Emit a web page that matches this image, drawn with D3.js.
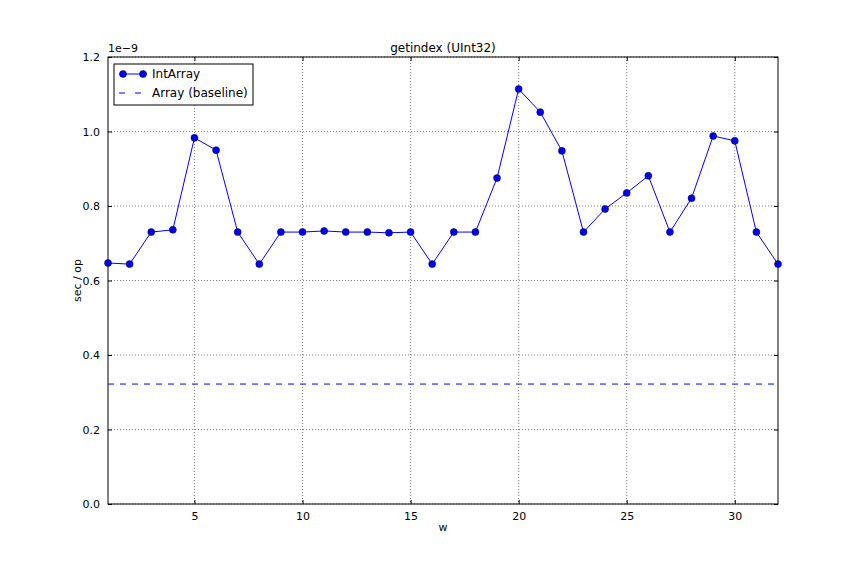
<!DOCTYPE html>
<html><head><meta charset="utf-8">
<script src="https://cdn.jsdelivr.net/npm/d3@7"></script>
<style>body{margin:0;background:#fff}text{font-family:"DejaVu Sans",sans-serif}</style>
</head><body><svg id="c" width="864" height="576"></svg>
<script>
const ws = d3.range(1,33);
const intArray = [0.647,0.644,0.730,0.736,0.983,0.950,0.730,0.644,0.730,0.730,0.733,0.730,0.730,0.728,0.730,0.644,0.730,0.730,0.875,1.114,1.052,0.948,0.730,0.792,0.835,0.881,0.730,0.821,0.988,0.975,0.730,0.644];
const baseline = 0.322;
const xTicks = [5,10,15,20,25,30];
const yTicks = [0,0.2,0.4,0.6,0.8,1.0,1.2];
const svg = d3.select("#c");
const L=108,R=778,T=57,B=504;
const x = d3.scaleLinear().domain([1,32]).range([L,R]);
const y = d3.scaleLinear().domain([0,1.2]).range([B,T]);
const g = svg.append("g");
// grid
xTicks.forEach(t=>g.append("line").attr("x1",x(t)).attr("x2",x(t)).attr("y1",T).attr("y2",B).attr("stroke","#000").attr("stroke-width",0.5).attr("stroke-dasharray","1,2"));
yTicks.forEach(t=>g.append("line").attr("y1",y(t)).attr("y2",y(t)).attr("x1",L).attr("x2",R).attr("stroke","#000").attr("stroke-width",0.5).attr("stroke-dasharray","1,2"));
// axes
const xa = g.append("g").attr("transform",`translate(0,${B})`).call(d3.axisBottom(x).tickValues(xTicks).tickSizeInner(-4).tickSizeOuter(0).tickPadding(8));
const xa2 = g.append("g").attr("transform",`translate(0,${T})`).call(d3.axisTop(x).tickValues(xTicks).tickSizeInner(-4).tickSizeOuter(0).tickFormat(""));
const ya = g.append("g").attr("transform",`translate(${L},0)`).call(d3.axisLeft(y).tickValues(yTicks).tickFormat(d3.format(".1f")).tickSizeInner(-4).tickSizeOuter(0).tickPadding(8));
const ya2 = g.append("g").attr("transform",`translate(${R},0)`).call(d3.axisRight(y).tickValues(yTicks).tickSizeInner(-4).tickSizeOuter(0).tickFormat(""));
[xa,xa2,ya,ya2].forEach(a=>{a.select(".domain").remove();a.selectAll("text").attr("font-size",11).attr("fill","#000");});
g.append("rect").attr("x",L).attr("y",T).attr("width",R-L).attr("height",B-T).attr("fill","none").attr("stroke","#000");
// data
g.append("line").attr("x1",L).attr("x2",R).attr("y1",y(baseline)).attr("y2",y(baseline)).attr("stroke","#0000ff").attr("stroke-dasharray","6,6");
const line = d3.line().x((d,i)=>x(ws[i])).y(d=>y(d));
g.append("path").datum(intArray).attr("d",line).attr("fill","none").attr("stroke","#0000ff");
g.selectAll("circle.p").data(intArray).join("circle").attr("cx",(d,i)=>x(ws[i])).attr("cy",d=>y(d)).attr("r",3.5).attr("fill","#0000ff").attr("stroke","#000").attr("stroke-width",0.5);
// labels
svg.append("text").attr("x",(L+R)/2).attr("y",52).attr("text-anchor","middle").attr("font-size",12).text("getindex (UInt32)");
svg.append("text").attr("x",(L+R)/2).attr("y",531).attr("text-anchor","middle").attr("font-size",11).text("w");
svg.append("text").attr("transform",`translate(81,${(T+B)/2}) rotate(-90)`).attr("text-anchor","middle").attr("font-size",11).text("sec / op");
svg.append("text").attr("x",L).attr("y",52).attr("font-size",11).text("1e\u22129");
// legend
const lg = svg.append("g");
lg.append("rect").attr("x",114).attr("y",64).attr("width",139).attr("height",41).attr("fill","#fff").attr("stroke","#000");
lg.append("line").attr("x1",119).attr("x2",147).attr("y1",74).attr("y2",74).attr("stroke","#0000ff");
lg.append("circle").attr("cx",123).attr("cy",74).attr("r",3.5).attr("fill","#0000ff").attr("stroke","#000").attr("stroke-width",0.5);
lg.append("circle").attr("cx",143).attr("cy",74).attr("r",3.5).attr("fill","#0000ff").attr("stroke","#000").attr("stroke-width",0.5);
lg.append("text").attr("x",152).attr("y",78).attr("font-size",12).text("IntArray");
lg.append("line").attr("x1",119).attr("x2",147).attr("y1",93).attr("y2",93).attr("stroke","#0000ff").attr("stroke-dasharray","6,10");
lg.append("text").attr("x",152).attr("y",97).attr("font-size",12).text("Array (baseline)");
</script></body></html>
